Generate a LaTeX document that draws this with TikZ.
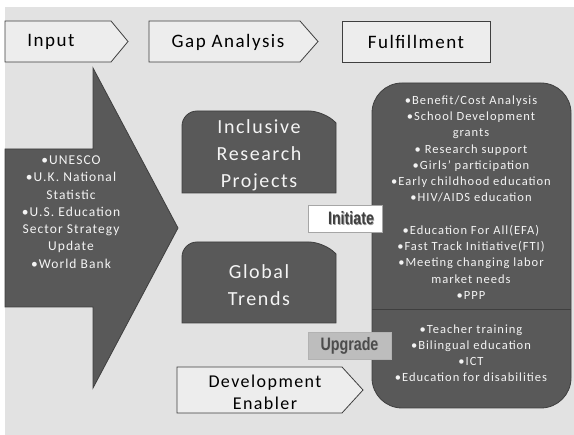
\documentclass[tikz,border=0pt]{standalone}
\usepackage{fontspec}
\setmainfont{Carlito}[LetterSpace=8]
\newfontfamily\wafont{Liberation Sans}
\definecolor{bgc}{HTML}{E2E2E2}
\definecolor{darkf}{HTML}{595959}
\definecolor{darke}{HTML}{3F3F3F}
\definecolor{lightf}{HTML}{EDEDED}
\definecolor{txtw}{HTML}{F4F4F4}
\definecolor{upf}{HTML}{BDBDBD}
\begin{document}
\begin{tikzpicture}[x=1pt,y=-1pt,
  lightshape/.style={fill=lightf,draw=darke,line width=0.8pt},
  darkshape/.style={fill=darkf,draw=darke,line width=0.8pt},
  headtxt/.style={font=\fontsize{19}{22}\selectfont,text=black},
  bigtxt/.style={font=\fontsize{20}{27}\selectfont,text=txtw,align=center},
  listtxt/.style={font=\fontsize{12.5}{16.25}\selectfont,text=txtw,align=center},
  wordart/.style={font=\wafont\bfseries\fontsize{15}{15}\selectfont,inner sep=0pt}
]
\useasboundingbox (0,0) rectangle (574,435);
\fill[bgc] (5,7) rectangle (574,435);

% header shapes
\draw[lightshape] (5,21) -- (111,21) -- (128,41.5) -- (111,62) -- (5,62) -- cycle;
\draw[lightshape] (149,21) -- (300,21) -- (318,41.5) -- (300,62) -- (149,62) -- cycle;
\draw[lightshape] (342,21) rectangle (490,62);
\node[headtxt] (tin) at (51,42) {Input};
\node[headtxt] (tgap) at (228,42) {Gap Analysis};
\node[headtxt] (tful) at (416,42) {Fulfillment};

% big input arrow
\draw[darkshape] (5,149) -- (93,149) -- (93,68) -- (178,228) -- (93,388) -- (93,307) -- (5,307) -- cycle;
\node[font=\fontsize{13.5}{17.3}\selectfont,text=txtw,align=center] (tsrc) at (71,212)
  {•UNESCO\\•U.K. National\\Statistic\\•U.S. Education\\Sector Strategy\\Update\\•World Bank};

% gap analysis boxes
\draw[darkshape] (182,193) {[rounded corners=15pt] -- (182,111) -- (324,111)} -- (336,123) -- (336,193) -- cycle;
\node[bigtxt] (tinc) at (259,155.5) {Inclusive\\Research\\Projects};
\draw[darkshape] (182,323) {[rounded corners=15pt] -- (182,242) -- (324,242)} -- (336,254) -- (336,323) -- cycle;
\node[bigtxt] (tglo) at (259,285.5) {Global\\Trends};

% development enabler
\draw[lightshape] (177,367) -- (342,367) -- (363,390) -- (342,413) -- (177,413) -- cycle;
\node[font=\fontsize{18}{22}\selectfont,align=center] (tdev) at (265,392) {Development\\Enabler};

% fulfillment box
\draw[darkshape,rounded corners=30pt] (372,83) rectangle (571,408);
\draw[darke,line width=0.8pt] (372.4,309) -- (570.6,309);
\node[listtxt] (tl1) at (471,197.5)
  {•Benefit/Cost Analysis\\•School Development\\grants\\• Research support\\•Girls’ participation\\•Early childhood education\\•HIV/AIDS education\\[16.25pt]•Education For All(EFA)\\•Fast Track Initiative(FTI)\\•Meeting changing labor\\market needs\\•PPP};
\node[listtxt,font=\fontsize{12.5}{16}\selectfont] (tl2) at (471,353)
  {•Teacher training\\•Bilingual education\\•ICT\\•Education for disabilities};

% initiate / upgrade labels
\draw[fill=white,draw=gray!70,line width=0.8pt] (308,205) rectangle (382,232);
\node[wordart,text=black!40] (tinis) at (351.8,219.3) {\scalebox{0.95}[1.2]{Initiate}};
\node[wordart,text=black!75] (tini) at (351,218.5) {\scalebox{0.95}[1.2]{Initiate}};
\draw[fill=upf,draw=gray!60,line width=0.8pt] (308,332) rectangle (391,359);
\node[wordart,text=black!30] (tups) at (350.3,346.3) {\scalebox{0.95}[1.2]{Upgrade}};
\node[wordart,text=black!70] (tup) at (349.5,345.5) {\scalebox{0.95}[1.2]{Upgrade}};
\end{tikzpicture}
\end{document}
